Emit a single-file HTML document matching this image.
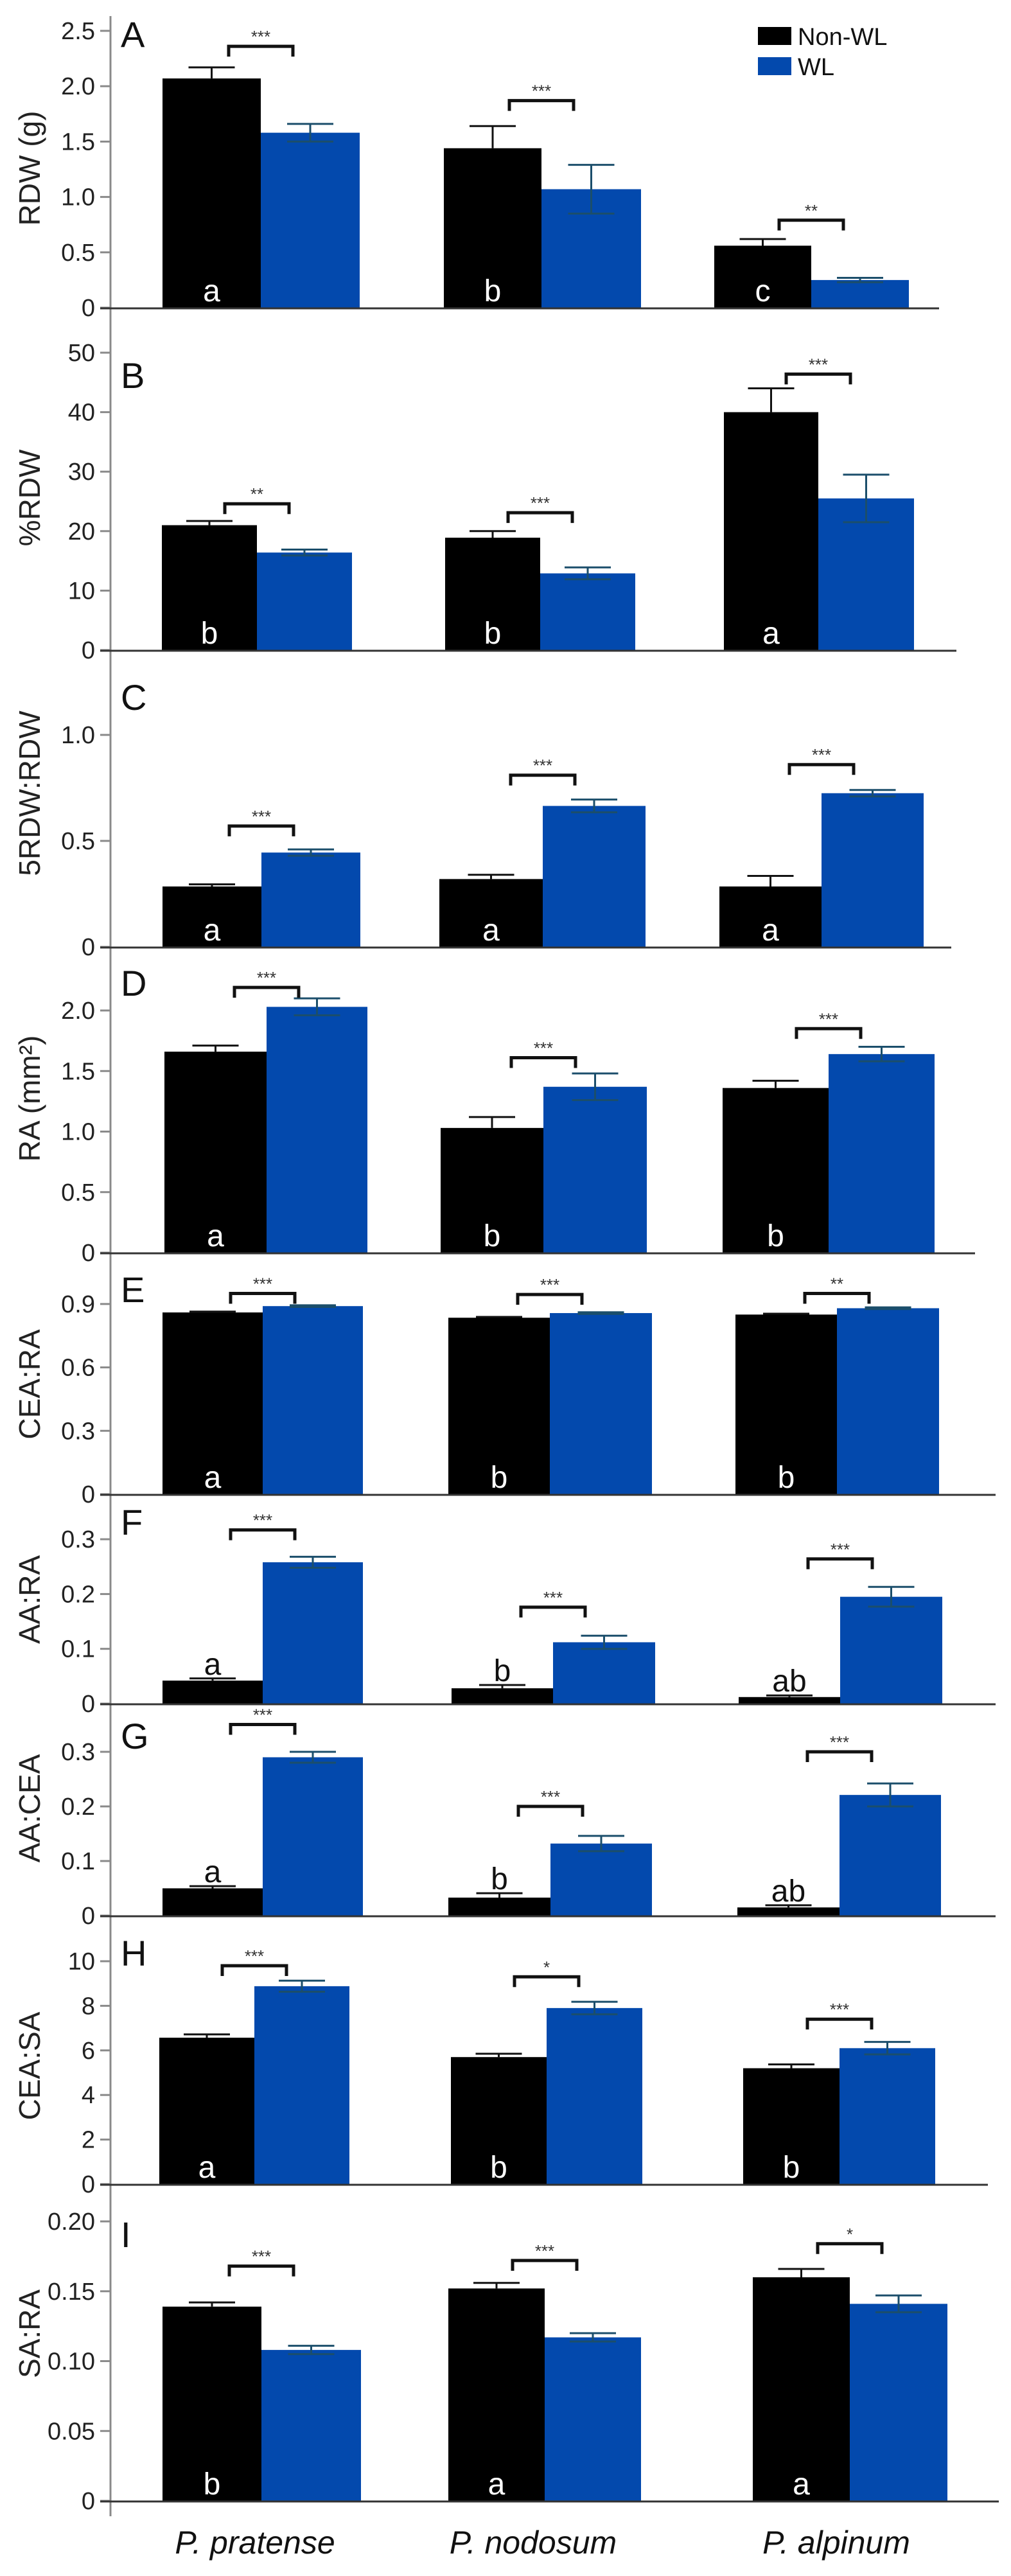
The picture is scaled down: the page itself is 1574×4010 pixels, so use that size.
<!DOCTYPE html>
<html><head><meta charset="utf-8">
<style>
html,body{margin:0;padding:0;background:#fff;}
svg{display:block;font-family:"Liberation Sans",Arial,sans-serif;}
</style></head>
<body>
<svg id="fig" width="1574" height="4010" viewBox="0 0 1574 4010" xmlns="http://www.w3.org/2000/svg"></svg>
<script>
// ---------- DATA ----------
const categories = ["P. pratense", "P. nodosum", "P. alpinum"];
const seriesNames = ["Non-WL", "WL"];
const panelIds = ["A","B","C","D","E","F","G","H","I"];
const yTitles = ["RDW (g)", "%RDW", "5RDW:RDW", "RA (mm²)", "CEA:RA", "AA:RA", "AA:CEA", "CEA:SA", "SA:RA"];

const A_nonWL = [2.07, 1.44, 0.56];  const A_nonWLErr = [0.10, 0.20, 0.06];
const A_WL    = [1.58, 1.07, 0.25];  const A_WLErr    = [0.08, 0.22, 0.02];
const A_ticks = [0, 0.5, 1.0, 1.5, 2.0, 2.5]; const A_tickLabels = ["0","0.5","1.0","1.5","2.0","2.5"];
const A_sig = ["***","***","**"]; const A_bracket = [2.36, 1.87, 0.79]; const A_letters = ["a","b","c"];

const B_nonWL = [21.0, 18.9, 40.0];  const B_nonWLErr = [0.7, 1.1, 4.0];
const B_WL    = [16.4, 12.9, 25.5];  const B_WLErr    = [0.5, 1.0, 4.0];
const B_ticks = [0,10,20,30,40,50]; const B_tickLabels = ["0","10","20","30","40","50"];
const B_sig = ["**","***","***"]; const B_bracket = [24.6, 23.1, 46.4]; const B_letters = ["b","b","a"];

const C_nonWL = [0.285, 0.32, 0.285]; const C_nonWLErr = [0.01, 0.02, 0.05];
const C_WL    = [0.445, 0.665, 0.725]; const C_WLErr    = [0.015, 0.03, 0.015];
const C_ticks = [0, 0.5, 1.0]; const C_tickLabels = ["0","0.5","1.0"];
const C_sig = ["***","***","***"]; const C_bracket = [0.57, 0.81, 0.86]; const C_letters = ["a","a","a"];

const D_nonWL = [1.66, 1.03, 1.36]; const D_nonWLErr = [0.05, 0.09, 0.06];
const D_WL    = [2.03, 1.37, 1.64]; const D_WLErr    = [0.07, 0.11, 0.06];
const D_ticks = [0, 0.5, 1.0, 1.5, 2.0]; const D_tickLabels = ["0","0.5","1.0","1.5","2.0"];
const D_sig = ["***","***","***"]; const D_bracket = [2.19, 1.61, 1.85]; const D_letters = ["a","b","b"];

const E_nonWL = [0.86, 0.835, 0.85]; const E_nonWLErr = [0.004, 0.004, 0.004];
const E_WL    = [0.89, 0.857, 0.88]; const E_WLErr    = [0.004, 0.004, 0.004];
const E_ticks = [0, 0.3, 0.6, 0.9]; const E_tickLabels = ["0","0.3","0.6","0.9"];
const E_sig = ["***","***","**"]; const E_bracket = [0.95, 0.945, 0.95]; const E_letters = ["a","b","b"];

const F_nonWL = [0.042, 0.028, 0.012]; const F_nonWLErr = [0.004, 0.006, 0.003];
const F_WL    = [0.258, 0.112, 0.195]; const F_WLErr    = [0.010, 0.012, 0.018];
const F_ticks = [0, 0.1, 0.2, 0.3]; const F_tickLabels = ["0","0.1","0.2","0.3"];
const F_sig = ["***","***","***"]; const F_bracket = [0.317, 0.176, 0.264]; const F_letters = ["a","b","ab"];

const G_nonWL = [0.050, 0.033, 0.015]; const G_nonWLErr = [0.004, 0.008, 0.004];
const G_WL    = [0.290, 0.132, 0.221]; const G_WLErr    = [0.010, 0.014, 0.021];
const G_ticks = [0, 0.1, 0.2, 0.3]; const G_tickLabels = ["0","0.1","0.2","0.3"];
const G_sig = ["***","***","***"]; const G_bracket = [0.35, 0.20, 0.30]; const G_letters = ["a","b","ab"];

const H_nonWL = [6.57, 5.7, 5.2]; const H_nonWLErr = [0.15, 0.15, 0.17];
const H_WL    = [8.88, 7.9, 6.1]; const H_WLErr    = [0.25, 0.28, 0.28];
const H_ticks = [0,2,4,6,8,10]; const H_tickLabels = ["0","2","4","6","8","10"];
const H_sig = ["***","*","***"]; const H_bracket = [9.8, 9.3, 7.4]; const H_letters = ["a","b","b"];

const I_nonWL = [0.139, 0.152, 0.160]; const I_nonWLErr = [0.003, 0.004, 0.006];
const I_WL    = [0.108, 0.117, 0.141]; const I_WLErr    = [0.003, 0.003, 0.006];
const I_ticks = [0, 0.05, 0.10, 0.15, 0.20]; const I_tickLabels = ["0","0.05","0.10","0.15","0.20"];
const I_sig = ["***","***","*"]; const I_bracket = [0.168, 0.172, 0.184]; const I_letters = ["b","a","a"];

const panelData = {
  A:[A_nonWL,A_nonWLErr,A_WL,A_WLErr,A_ticks,A_tickLabels,A_sig,A_bracket,A_letters],
  B:[B_nonWL,B_nonWLErr,B_WL,B_WLErr,B_ticks,B_tickLabels,B_sig,B_bracket,B_letters],
  C:[C_nonWL,C_nonWLErr,C_WL,C_WLErr,C_ticks,C_tickLabels,C_sig,C_bracket,C_letters],
  D:[D_nonWL,D_nonWLErr,D_WL,D_WLErr,D_ticks,D_tickLabels,D_sig,D_bracket,D_letters],
  E:[E_nonWL,E_nonWLErr,E_WL,E_WLErr,E_ticks,E_tickLabels,E_sig,E_bracket,E_letters],
  F:[F_nonWL,F_nonWLErr,F_WL,F_WLErr,F_ticks,F_tickLabels,F_sig,F_bracket,F_letters],
  G:[G_nonWL,G_nonWLErr,G_WL,G_WLErr,G_ticks,G_tickLabels,G_sig,G_bracket,G_letters],
  H:[H_nonWL,H_nonWLErr,H_WL,H_WLErr,H_ticks,H_tickLabels,H_sig,H_bracket,H_letters],
  I:[I_nonWL,I_nonWLErr,I_WL,I_WLErr,I_ticks,I_tickLabels,I_sig,I_bracket,I_letters]
};

// ---------- LAYOUT (pixels) ----------
const AX = 172;
const layout = {
  A:{y0:479, ppu:172.4, end:1462, title:262, letterY:73,  g:[[253,406,560],[691,843,998],[1112,1263,1415]]},
  B:{y0:1012,ppu:9.26,  end:1489, title:775, letterY:604, g:[[252,400,548],[693,841,989],[1127,1274,1423]]},
  C:{y0:1474,ppu:330,   end:1481, title:1235,letterY:1105,g:[[253,407,561],[684,845,1005],[1120,1279,1438]]},
  D:{y0:1950,ppu:188.5, end:1518, title:1710,letterY:1550,g:[[256,415,572],[686,846,1007],[1125,1290,1455]]},
  E:{y0:2326,ppu:329,   end:1550, title:2155,letterY:2027,g:[[253,409,565],[698,856,1015],[1145,1303,1462]]},
  F:{y0:2652,ppu:853,   end:1550, title:2490,letterY:2389,g:[[253,409,565],[703,861,1020],[1150,1308,1467]]},
  G:{y0:2982,ppu:850,   end:1550, title:2815,letterY:2722,g:[[253,409,565],[698,857,1015],[1148,1307,1465]]},
  H:{y0:3400,ppu:34.7,  end:1538, title:3216,letterY:3060,g:[[248,396,544],[702,851,1000],[1157,1307,1456]]},
  I:{y0:3893,ppu:2175,  end:1555, title:3633,letterY:3498,g:[[253,407,562],[698,848,998],[1172,1323,1475]]}
};
const BLUE = "#0349ad", ERRBLUE = "#1b4e6b";

const NS = "http://www.w3.org/2000/svg";
const svg = document.getElementById("fig");
function mk(tag, attrs, parent){
  const e = document.createElementNS(NS, tag);
  for (const k in attrs) e.setAttribute(k, attrs[k]);
  (parent||svg).appendChild(e);
  return e;
}

// main y axis line
const axisLine = mk("line",{x1:AX,y1:25,x2:AX,y2:3917,stroke:"#8a8a8a","stroke-width":3});



panelIds.forEach((pid, pi) => {
  const [nw, nwe, wl, wle, ticks, tlabels, sig, br, lets] = panelData[pid];
  const L = layout[pid];
  const y = v => L.y0 - v * L.ppu;
  const g = mk("g",{});
  
  

  // ticks
  ticks.forEach((t, ti) => {
    const tk = mk("line",{x1:AX-16,y1:y(t),x2:AX,y2:y(t),stroke:"#8a8a8a","stroke-width":3},g);
    
    
    const tl = mk("text",{x:AX-24,y:y(t)+13,"text-anchor":"end","font-size":38,fill:"#222"},g);
    tl.textContent = tlabels[ti];
    
    
  });

  // y title
  const yt = mk("text",{x:0,y:0,"text-anchor":"middle","font-size":46,fill:"#222",
    transform:"translate(62," + L.title + ") rotate(-90)"},g);
  yt.textContent = yTitles[pi];
  
  

  // panel letter
  const pl = mk("text",{x:188,y:L.letterY,"font-size":56,fill:"#111"},g);
  pl.textContent = pid;
  
  

  // bars
  categories.forEach((c, ci) => {
    const [x0,x1,x2] = L.g[ci];
    const b1 = mk("rect",{x:x0,y:y(nw[ci]),width:x1-x0,height:nw[ci]*L.ppu,fill:"#000"},g);
    
    
    const b2 = mk("rect",{x:x1,y:y(wl[ci]),width:x2-x1,height:wl[ci]*L.ppu,fill:BLUE},g);
    
    

    // error bars
    const c1 = (x0+x1)/2, c2 = (x1+x2)/2;
    const e1 = mk("path",{d:"M"+c1+","+y(nw[ci])+"V"+y(nw[ci]+nwe[ci])+"M"+(c1-36)+","+y(nw[ci]+nwe[ci])+"H"+(c1+36),
      stroke:"#111","stroke-width":3,fill:"none"},g);
    
    
    const e2 = mk("path",{d:"M"+c2+","+y(wl[ci]-wle[ci])+"V"+y(wl[ci]+wle[ci])+
      "M"+(c2-36)+","+y(wl[ci]+wle[ci])+"H"+(c2+36)+"M"+(c2-36)+","+y(wl[ci]-wle[ci])+"H"+(c2+36),
      stroke:ERRBLUE,"stroke-width":3,fill:"none"},g);
    
    

    // significance bracket
    const by = y(br[ci]);
    const bk = mk("path",{d:"M"+(x1-50)+","+(by+16)+"V"+by+"H"+(x1+50)+"V"+(by+16),
      stroke:"#111","stroke-width":5,fill:"none"},g);
    
    
    const st = mk("text",{x:x1,y:by-6,"text-anchor":"middle","font-size":26,fill:"#333"},g);
    st.textContent = sig[ci];
    
    

    // group letter
    const above = (pid === "F" || pid === "G");
    const ly = above ? y(nw[ci] + nwe[ci]) - 6 : L.y0 - 10;
    const lt = mk("text",{x:c1,y:ly,"text-anchor":"middle","font-size":48,fill: above ? "#111" : "#fff"},g);
    lt.textContent = lets[ci];
    
    
  });

  // baseline
  const bl = mk("line",{x1:AX-16,y1:L.y0+1,x2:L.end,y2:L.y0+1,stroke:"#333","stroke-width":3},g);
  
  
});

// x category labels
const catX = [397, 830, 1302];
categories.forEach((c, ci) => {
  const t = mk("text",{x:catX[ci],y:3975,"text-anchor":"middle","font-size":50,"font-style":"italic",fill:"#111"});
  t.textContent = c;
  
  
});

// legend
const lg = mk("g",{});


const swatchColors = ["#000", BLUE];
seriesNames.forEach((s, si) => {
  const r = mk("rect",{x:1180,y:42+si*47,width:52,height:28,fill:swatchColors[si]},lg);
  
  
  const t = mk("text",{x:1242,y:70+si*47,"font-size":38,fill:"#111"},lg);
  t.textContent = s;
  
  
});
</script>
</body></html>
